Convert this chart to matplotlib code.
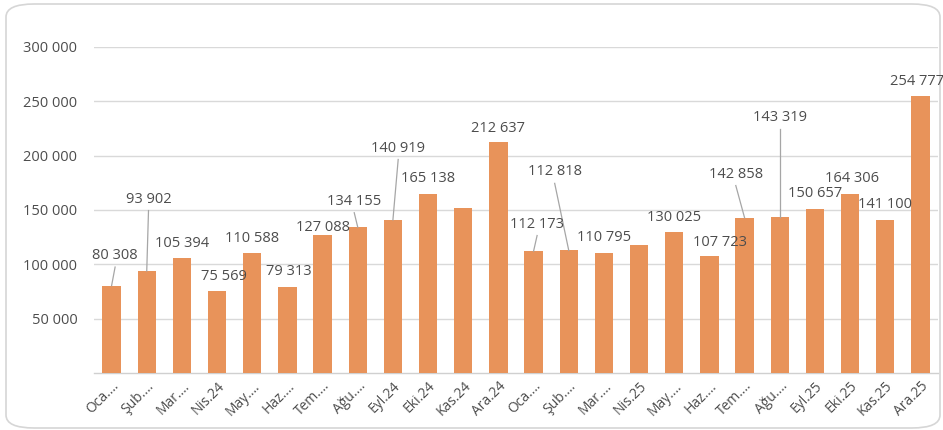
import matplotlib
matplotlib.use("Agg")
import matplotlib.pyplot as plt
from matplotlib.patches import FancyBboxPatch

categories = ["Oca.…", "Şub.…", "Mar.…", "Nis.24", "May.…", "Haz.…", "Tem.…", "Ağu.…",
              "Eyl.24", "Eki.24", "Kas.24", "Ara.24",
              "Oca.…", "Şub.…", "Mar.…", "Nis.25", "May.…", "Haz.…", "Tem.…", "Ağu.…",
              "Eyl.25", "Eki.25", "Kas.25", "Ara.25"]
values = [80308, 93902, 105394, 75569, 110588, 79313, 127088, 134155,
          140919, 165138, 151500, 212637,
          112173, 112818, 110795, 117500, 130025, 107723, 142858, 143319,
          150657, 164306, 141100, 254777]
labels = ["80 308", "93 902", "105 394", "75 569", "110 588", "79 313", "127 088", "134 155",
          "140 919", "165 138", None, "212 637",
          "112 173", "112 818", "110 795", None, "130 025", "107 723", "142 858", "143 319",
          "150 657", "164 306", "141 100", "254 777"]
yticks = [50000, 100000, 150000, 200000, 250000, 300000]
ytick_labels = ["50 000", "100 000", "150 000", "200 000", "250 000", "300 000"]

# label placement (dx in category units, label centre height in data units, leader line?)
label_dx = [0.1, 0.05, 0.0, 0.2, 0.0, 0.05, 0.0, -0.1,
            0.15, 0.0, 0.0, 0.0,
            0.1, -0.4, 0.0, 0.0, 0.0, 0.3, -0.25, 0.0,
            0.0, 0.05, 0.0, -0.1]
label_y = [108000, 160000, 119000, 89000, 124000, 93000, 134000, 158000,
           207000, 179000, None, 225000,
           137000, 185000, 125000, None, 143000, 120000, 183000, 235000,
           165000, 179000, 155000, 268000]
leader = [True, True, False, False, False, False, False, True,
          True, False, False, False,
          True, True, False, False, False, False, True, True,
          False, False, False, False]

bar_color = "#E8935A"
text_color = "#4D4D4D"
grid_color = "#D9D9D9"

plt.rcParams['font.family'] = ['Open Sans', 'DejaVu Sans']

fig = plt.figure(figsize=(9.43, 4.30), dpi=100)
border = FancyBboxPatch((6 / 943, 2 / 430), (940 - 6) / 943, (426 - 2) / 430,
                        boxstyle="round,pad=0,rounding_size=0.03",
                        transform=fig.transFigure, facecolor="none",
                        edgecolor="#D6D6D6", linewidth=1.2, zorder=-1)
fig.patches.append(border)

ax = fig.add_axes([94 / 943, 1 - 373 / 430, (938 - 94) / 943, (373 - 47) / 430])
ax.set_facecolor("none")
x = list(range(len(values)))
ax.bar(x, values, width=0.52, color=bar_color, zorder=3)

ax.set_xlim(-0.5, len(values) - 0.5)
ax.set_ylim(0, 300000)
ax.set_yticks(yticks)
ax.set_yticklabels(ytick_labels)
ax.yaxis.grid(True, color=grid_color, linewidth=1.0, zorder=0)
ax.set_axisbelow(True)
for s in ["top", "right", "left"]:
    ax.spines[s].set_visible(False)
ax.spines["bottom"].set_color("#D0D0D0")
ax.spines["bottom"].set_linewidth(1.0)
ax.tick_params(axis="y", length=0, pad=12, labelsize=10.5, labelcolor=text_color)
ax.tick_params(axis="x", length=0, pad=4, labelsize=10, labelcolor=text_color)
ax.set_xticks(x)
ax.set_xticklabels(categories, rotation=45, ha="right", va="top", rotation_mode="anchor")

for i, (v, lab) in enumerate(zip(values, labels)):
    if lab is None:
        continue
    lx = i + label_dx[i]
    ly = label_y[i]
    ax.text(lx, ly, lab, ha="center", va="center", fontsize=10.5, color=text_color, zorder=5)
    if leader[i]:
        ax.plot([lx, i], [ly - 10500, v], color="#A6A6A6", linewidth=0.9, zorder=4)

fig.savefig("out.png", dpi=100)
